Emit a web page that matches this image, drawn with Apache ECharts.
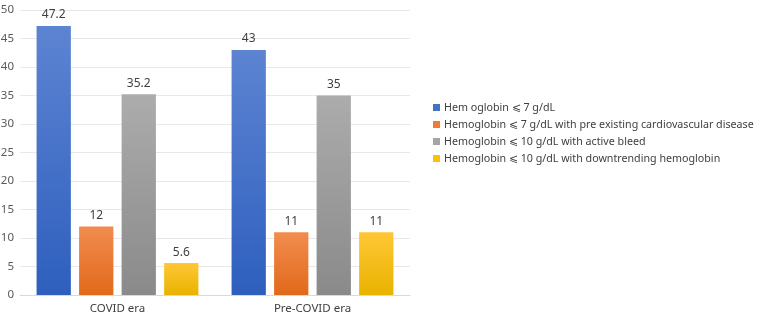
<!DOCTYPE html>
<html>
<head>
<meta charset="utf-8">
<script src="https://cdn.jsdelivr.net/npm/echarts@6/dist/echarts.min.js"></script>
<style>
  html, body { margin: 0; padding: 0; background: #fff; }
  #chart { width: 767px; height: 318px; }
</style>
</head>
<body>
<div id="chart"></div>
<script>
const categories = ['COVID era', 'Pre-COVID era'];
const seriesNames = [
  'Hem oglobin ⩽ 7 g/dL',
  'Hemoglobin ⩽ 7 g/dL with pre existing cardiovascular disease',
  'Hemoglobin ⩽ 10 g/dL with active bleed',
  'Hemoglobin ⩽ 10 g/dL with downtrending hemoglobin'
];
const hb7 = [47.2, 43];
const hb7Cardio = [12, 11];
const hb10Bleed = [35.2, 35];
const hb10Down = [5.6, 11];

// top / bottom gradient colours, legend colour
const palette = [
  ['#5d84d2', '#2e5fbe', '#4472c4'],
  ['#f28c4f', '#e1691a', '#ed7d31'],
  ['#acacac', '#8a8a8a', '#a5a5a5'],
  ['#ffc735', '#e9b300', '#ffc000']
];

const font = 'Noto Sans';

const chart = echarts.init(document.getElementById('chart'));

const series = [hb7, hb7Cardio, hb10Bleed, hb10Down].map((data, i) => ({
  name: seriesNames[i],
  type: 'bar',
  data: data,
  barGap: '24%',
  barCategoryGap: '17%',
  color: palette[i][2],
  itemStyle: {
    color: new echarts.graphic.LinearGradient(0, 0, 0, 1, [
      { offset: 0, color: palette[i][0] },
      { offset: 1, color: palette[i][1] }
    ])
  },
  label: {
    show: true,
    position: 'top',
    distance: 5,
    color: '#404040',
    fontSize: 12,
    fontFamily: font
  }
}));

chart.setOption({
  animation: false,
  textStyle: { fontFamily: font },
  grid: { left: 20, right: 357, top: 10, bottom: 23, outerBoundsMode: 'none', containLabel: false },
  legend: {
    orient: 'vertical',
    left: 428,
    top: 97,
    itemWidth: 7,
    itemHeight: 7,
    itemGap: 6,
    icon: 'rect',
    textStyle: { fontSize: 10.7, color: '#404040', fontFamily: font, padding: [0, 0, 0, -1] },
    data: seriesNames.map((n, i) => ({ name: n, itemStyle: { color: palette[i][2] } }))
  },
  xAxis: {
    type: 'category',
    data: categories,
    axisLine: { lineStyle: { color: '#d9d9d9' } },
    axisTick: { show: false },
    axisLabel: { color: '#404040', fontSize: 11.5, margin: 8 }
  },
  yAxis: {
    type: 'value',
    min: 0,
    max: 50,
    interval: 5,
    axisLine: { show: false },
    axisTick: { show: false },
    splitLine: { lineStyle: { color: '#e8e8e8' } },
    axisLabel: { color: '#595959', fontSize: 11.5, margin: 6 }
  },
  series
});
</script>
</body>
</html>
